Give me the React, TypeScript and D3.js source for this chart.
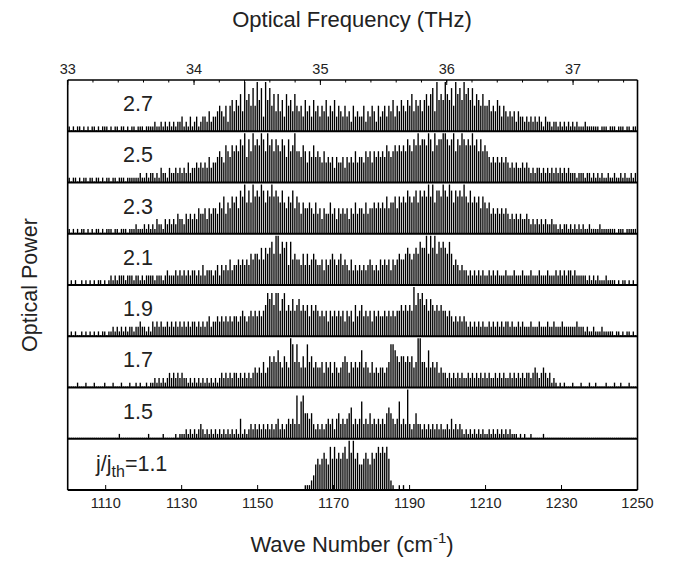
import React from "react";
import * as d3 from "d3";

// layout
const W = 676;
const H = 569;
const L = 67.7;
const R = 637.5;
const T = 80;
const B = 490;

// panel labels, top to bottom
const CURRENTS = ["2.7", "2.5", "2.3", "2.1", "1.9", "1.7", "1.5", "1.1"];

// longitudinal modes: start and spacing in cm^-1
const MODE_START = 1100.4;
const MODE_STEP = 0.55;

const WN_TICKS = [1110, 1130, 1150, 1170, 1190, 1210, 1230, 1250];
const THZ_TICKS = [33, 34, 35, 36, 37];

// line heights, one char per mode (0..9, "." = no line)
// each chunk = 10 modes = 5.5 cm^-1
const P27 = [
  "1010110101", "0110101110", "1011011010", "1101110111", "1211212121",
  "2122312131", "2312332423", "3454352564", "6574967585", "9683968574",
  "7463756475", "4536453645", "3546354635", "4353425343", "3524354253",
  "4535463546", "5465746564", "6757849676", "9768597869", "7868576575",
  "5645465354", "3434243323", "2323232132", "2122121212", "1212111211",
  "1111011101", "1101110110", "11",
].join("");

const P25 = [
  "1011010110", "1101101011", "0110111011", "1111211212", "2121322132",
  "2323232423", "3434343534", "4565476576", "7687958697", "8798697868",
  "7687586796", "6576465756", "5464545354", "4535454645", "5465646565",
  "6576567676", "7687687978", "8798697889", "9878968798", "7879786867",
  "6545454545", "4343433434", "3232332323", "2323232323", "2221222122",
  "1212121121", "1211212112", "12",
].join("");

const P23 = [
  "1010101101", "0101101011", "1011011101", "1121112121", "2132213232",
  "3243324343", "4354453545", "5465746576", "7587968697", "8798687978",
  "7686576857", "6465565464", "5354464535", "4545354645", "5464556565",
  "6575667576", "7687678687", "8797968879", "8798687879", "7686767576",
  "5645454545", "4343434334", "3232323232", "2322121221", "2121212112",
  "1111211111", "1101110111", "11",
].join("");

const P21 = [
  "0101001010", "1010110101", "2121222122", "2122121222", "2122212322",
  "2323232323", "3232423332", "3424343534", "4545454656", "6575767869",
  "9687848565", "5464645654", "4535456545", "6454353434", "3434543435",
  "4545354565", "5676567687", "7969796878", "7686454343", "3232323232",
  "2323232223", "2223222322", "2322232223", "2223232323", "3232222212",
  "1212111211", "1101011010", "10",
].join("");

const P19 = [
  "0101001010", "1010101101", "1212121212", "2122322121", "3232322323",
  "2323232323", "3232323423", "3434343434", "4345434545", "4545687868",
  "8578565756", "7565646565", "4545354545", "4535453645", "6454535454",
  "4545454556", "5656596878", "6757656565", "5454343434", "3232323232",
  "2323232323", "3232232322", "2322232223", "2232223222", "2223222121",
  "1211121111", "1011010110", "10",
].join("");

const P17 = [
  "0000100010", "0010000100", "0100010001", "0010100101", "1212121232",
  "3232322121", "2121212121", "2123232323", "3232323234", "3435346565",
  "7546549858", "5464856454", "4535453543", "4565354545", "7454353434",
  "4345887656", "6565645995", "5474545343", "3232323232", "2323232323",
  "2322323232", "2323232323", "3234323432", "3121010100", "0100010001",
  "0010000100", "0100100010", "00",
].join("");

const P15 = [
  "0000000000", "0000000000", "0000100000", "0000000010", "0000010000",
  "0101112121", "2123212121", "2121212121", "2141212323", "2323232323",
  "4232343438", "3785545323", "2323434245", "3434563434", "7343534343",
  "4356543473", "4393235332", "3232323232", "2324232321", "2121212121",
  "1212121212", "1211101010", "0100000100", "0000000000", "0000000000",
  "0000000000", "0000000000", "00",
].join("");

const P11 = [
  "..........", "..........", "..........", "..........", "..........",
  "..........", "..........", "..........", "..........", "..........",
  "..........", "...1112356", "5676586867", "6786979675", "5676576787",
  "8786210.1.", "1.........", "..........", "..........", "..........",
  "..........", "..........", "..........", "..........", "..........",
  "..........", "..........", "..",
].join("");

const SPECTRA = [P27, P25, P23, P21, P19, P17, P15, P11];

const FONT = "'Liberation Sans', Arial, Helvetica, sans-serif";

export default function App() {
  const ph = (B - T) / CURRENTS.length;

  const x = d3.scaleLinear().domain([1100, 1250]).range([L, R]);
  const xTop = d3.scaleLinear().domain([33, 37.51]).range([L, R]);
  const hScale = d3.scalePow().exponent(1.15).domain([0, 9]).range([1, ph - 2]);

  const minorTop = d3.range(33, 37.5, 0.2);

  return (
    <svg width={W} height={H} style={{ position: "absolute", left: 0, top: 0 }} fontFamily={FONT}>
      <rect x={0} y={0} width={W} height={H} fill="#fff" />

      {SPECTRA.map((s, p) => {
        const base = T + (p + 1) * ph;
        return (
          <g key={p}>
            {s.split("").map((c, i) =>
              c === "." ? null : (
                <line
                  key={i}
                  x1={x(MODE_START + i * MODE_STEP)}
                  x2={x(MODE_START + i * MODE_STEP)}
                  y1={base}
                  y2={base - hScale(+c)}
                  stroke="#000"
                  strokeWidth={1.35}
                />
              )
            )}
            <line x1={L} x2={R} y1={base} y2={base} stroke="#000" strokeWidth={1.8} />
            {p < 7 ? (
              <text x={138} y={T + p * ph + 31} fontSize={21.5} textAnchor="middle" fill="#222">
                {CURRENTS[p]}
              </text>
            ) : (
              <text x={96} y={T + p * ph + 32} fontSize={21.5} fill="#222">
                j/j
                <tspan fontSize={16} dy={6}>th</tspan>
                <tspan dy={-6}>={CURRENTS[p]}</tspan>
              </text>
            )}
          </g>
        );
      })}

      {/* frame */}
      <line x1={L} x2={R} y1={T} y2={T} stroke="#000" strokeWidth={1.6} />
      <line x1={L} x2={L} y1={T} y2={B} stroke="#000" strokeWidth={1.6} />
      <line x1={R} x2={R} y1={T} y2={B} stroke="#000" strokeWidth={1.6} />

      {/* top axis, THz */}
      {minorTop.map((f, i) => (
        <line key={"m" + i} x1={xTop(f)} x2={xTop(f)} y1={T} y2={T + 2.5} stroke="#000" strokeWidth={1} />
      ))}
      {THZ_TICKS.map((f) => (
        <g key={"t" + f}>
          <line x1={xTop(f)} x2={xTop(f)} y1={T} y2={T + 5} stroke="#000" strokeWidth={1} />
          <text x={xTop(f)} y={74} fontSize={14.5} textAnchor="middle" fill="#222">
            {f}
          </text>
        </g>
      ))}

      {/* bottom axis, wave number */}
      {WN_TICKS.map((v) => (
        <g key={"b" + v}>
          <line x1={x(v)} x2={x(v)} y1={B} y2={B - 5} stroke="#000" strokeWidth={1} />
          <text x={x(v)} y={508} fontSize={14.5} textAnchor="middle" fill="#222">
            {v}
          </text>
        </g>
      ))}

      {/* titles */}
      <text x={352} y={27} fontSize={22} textAnchor="middle" fill="#222">
        Optical Frequency (THz)
      </text>
      <text x={352} y={552} fontSize={22} textAnchor="middle" fill="#222">
        Wave Number (cm
        <tspan fontSize={15} dy={-9}>-1</tspan>
        <tspan dy={9}>)</tspan>
      </text>
      <text
        transform="translate(37,285) rotate(-90)"
        fontSize={21.5}
        textAnchor="middle"
        fill="#222"
      >
        Optical Power
      </text>
    </svg>
  );
}
